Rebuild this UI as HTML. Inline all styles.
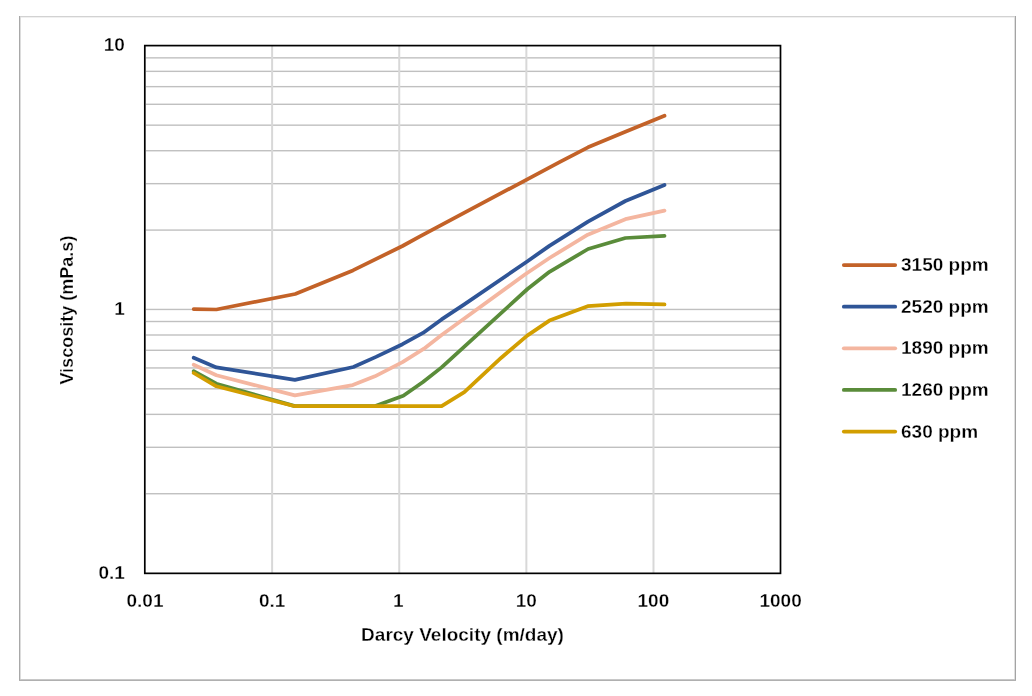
<!DOCTYPE html><html><head><meta charset="utf-8"><style>html,body{margin:0;padding:0;background:#fff;width:1032px;height:696px;overflow:hidden}#c{position:absolute;left:0;top:0;width:1032px;height:696px;will-change:transform}svg{display:block}text{font-family:"Liberation Sans",sans-serif;font-weight:bold;fill:#000;stroke:#fff;stroke-width:0.3px}</style></head><body><div id="c">
<svg width="1032" height="696" viewBox="0 0 1032 696">
<rect x="0" y="0" width="1032" height="696" fill="#fff"/>
<rect x="20" y="17" width="995" height="1" fill="#f0f0f0"/>
<rect x="20" y="17" width="1" height="663" fill="#dcdcdc"/>
<rect x="1014" y="17" width="1" height="663" fill="#e0e0e0"/>
<rect x="20" y="679" width="995" height="1" fill="#c8c8c8"/>
<rect x="19" y="16" width="997" height="1" fill="#d2d2d2"/>
<rect x="19" y="16" width="1" height="665" fill="#a8a8a8"/>
<rect x="1015" y="16" width="1" height="665" fill="#a4a4a4"/>
<rect x="19" y="680" width="997" height="1" fill="#b0b0b0"/>
<rect x="146" y="493.03" width="634" height="1.4" fill="#c0c0c0"/>
<rect x="146" y="446.61" width="634" height="1.4" fill="#c0c0c0"/>
<rect x="146" y="413.67" width="634" height="1.4" fill="#c0c0c0"/>
<rect x="146" y="388.12" width="634" height="1.4" fill="#c0c0c0"/>
<rect x="146" y="367.24" width="634" height="1.4" fill="#c0c0c0"/>
<rect x="146" y="349.59" width="634" height="1.4" fill="#c0c0c0"/>
<rect x="146" y="334.30" width="634" height="1.4" fill="#c0c0c0"/>
<rect x="146" y="320.81" width="634" height="1.4" fill="#c0c0c0"/>
<rect x="146" y="229.38" width="634" height="1.4" fill="#c0c0c0"/>
<rect x="146" y="182.96" width="634" height="1.4" fill="#c0c0c0"/>
<rect x="146" y="150.02" width="634" height="1.4" fill="#c0c0c0"/>
<rect x="146" y="124.47" width="634" height="1.4" fill="#c0c0c0"/>
<rect x="146" y="103.59" width="634" height="1.4" fill="#c0c0c0"/>
<rect x="146" y="85.94" width="634" height="1.4" fill="#c0c0c0"/>
<rect x="146" y="70.65" width="634" height="1.4" fill="#c0c0c0"/>
<rect x="146" y="57.16" width="634" height="1.4" fill="#c0c0c0"/>
<rect x="146" y="308.75" width="634" height="1.4" fill="#c0c0c0"/>
<rect x="271.12" y="46" width="2.0" height="527" fill="#d8d8d8"/>
<rect x="398.24" y="46" width="2.0" height="527" fill="#d8d8d8"/>
<rect x="525.36" y="46" width="2.0" height="527" fill="#d8d8d8"/>
<rect x="652.48" y="46" width="2.0" height="527" fill="#d8d8d8"/>
<rect x="144.8" y="45.6" width="635.70" height="527.75" fill="none" stroke="#000" stroke-width="1.7"/>
<path d="M193.7 309.1 L216.4 309.5 L295.2 294.0 L352.9 270.4 L402.5 246.0 L420.0 236.3 L560.0 161.9 L588.0 147.3 L625.4 131.8 L664.5 115.7" stroke="#C36228" stroke-width="3.75" fill="none" stroke-linejoin="round" stroke-linecap="round"/>
<path d="M193.7 357.8 L216.4 367.4 L294.9 379.9 L353.4 367.0 L376.0 356.9 L402.5 344.2 L423.0 332.9 L441.6 319.4 L464.3 304.4 L527.5 261.2 L549.4 245.9 L588.0 221.7 L625.4 201.0 L664.5 184.9" stroke="#2F5597" stroke-width="3.75" fill="none" stroke-linejoin="round" stroke-linecap="round"/>
<path d="M193.7 364.8 L216.4 375.3 L294.9 395.4 L352.8 385.1 L374.9 376.3 L402.5 362.2 L424.0 348.7 L441.6 334.9 L525.3 274.3 L549.5 258.0 L587.8 234.7 L625.4 219.2 L664.5 210.6" stroke="#F4B6A0" stroke-width="3.75" fill="none" stroke-linejoin="round" stroke-linecap="round"/>
<path d="M193.7 371.2 L216.4 383.7 L294.9 406.1 L375.3 406.1 L403.3 395.7 L423.0 382.0 L441.6 367.4 L527.5 289.0 L549.5 271.8 L588.1 249.0 L625.4 238.0 L664.5 235.8" stroke="#5A8C3A" stroke-width="3.75" fill="none" stroke-linejoin="round" stroke-linecap="round"/>
<path d="M193.7 373.0 L216.4 386.3 L294.9 406.2 L441.6 406.2 L464.3 392.1 L501.3 357.7 L527.2 335.6 L549.4 320.6 L587.7 306.2 L626.0 303.7 L664.5 304.4" stroke="#D29E00" stroke-width="3.75" fill="none" stroke-linejoin="round" stroke-linecap="round"/>
<text x="124.8" y="51.4" font-size="19" text-anchor="end">10</text>
<text x="124.8" y="315.3" font-size="19" text-anchor="end">1</text>
<text x="124.8" y="579.1" font-size="19" text-anchor="end">0.1</text>
<text x="145.0" y="606.5" font-size="19" text-anchor="middle">0.01</text>
<text x="272.1" y="606.5" font-size="19" text-anchor="middle">0.1</text>
<text x="398.4" y="606.5" font-size="19" text-anchor="middle">1</text>
<text x="526.3" y="606.5" font-size="19" text-anchor="middle">10</text>
<text x="653.4" y="606.5" font-size="19" text-anchor="middle">100</text>
<text x="780.6" y="606.5" font-size="19" text-anchor="middle">1000</text>
<text x="462.5" y="640.9" font-size="19" text-anchor="middle">Darcy Velocity (m/day)</text>
<text transform="translate(73.3,310.1) rotate(-90)" x="0" y="0" font-size="19" text-anchor="middle" textLength="149" lengthAdjust="spacingAndGlyphs">Viscosity (mPa.s)</text>
<path d="M843.8 265.00H895.2" stroke="#C36228" stroke-width="3.75" stroke-linecap="round"/>
<text x="901" y="271.00" font-size="19">3150 ppm</text>
<path d="M843.8 306.65H895.2" stroke="#2F5597" stroke-width="3.75" stroke-linecap="round"/>
<text x="901" y="312.65" font-size="19">2520 ppm</text>
<path d="M843.8 348.30H895.2" stroke="#F4B6A0" stroke-width="3.75" stroke-linecap="round"/>
<text x="901" y="354.30" font-size="19">1890 ppm</text>
<path d="M843.8 389.95H895.2" stroke="#5A8C3A" stroke-width="3.75" stroke-linecap="round"/>
<text x="901" y="395.95" font-size="19">1260 ppm</text>
<path d="M843.8 431.60H895.2" stroke="#D29E00" stroke-width="3.75" stroke-linecap="round"/>
<text x="901" y="437.60" font-size="19">630 ppm</text>
</svg></div></body></html>
